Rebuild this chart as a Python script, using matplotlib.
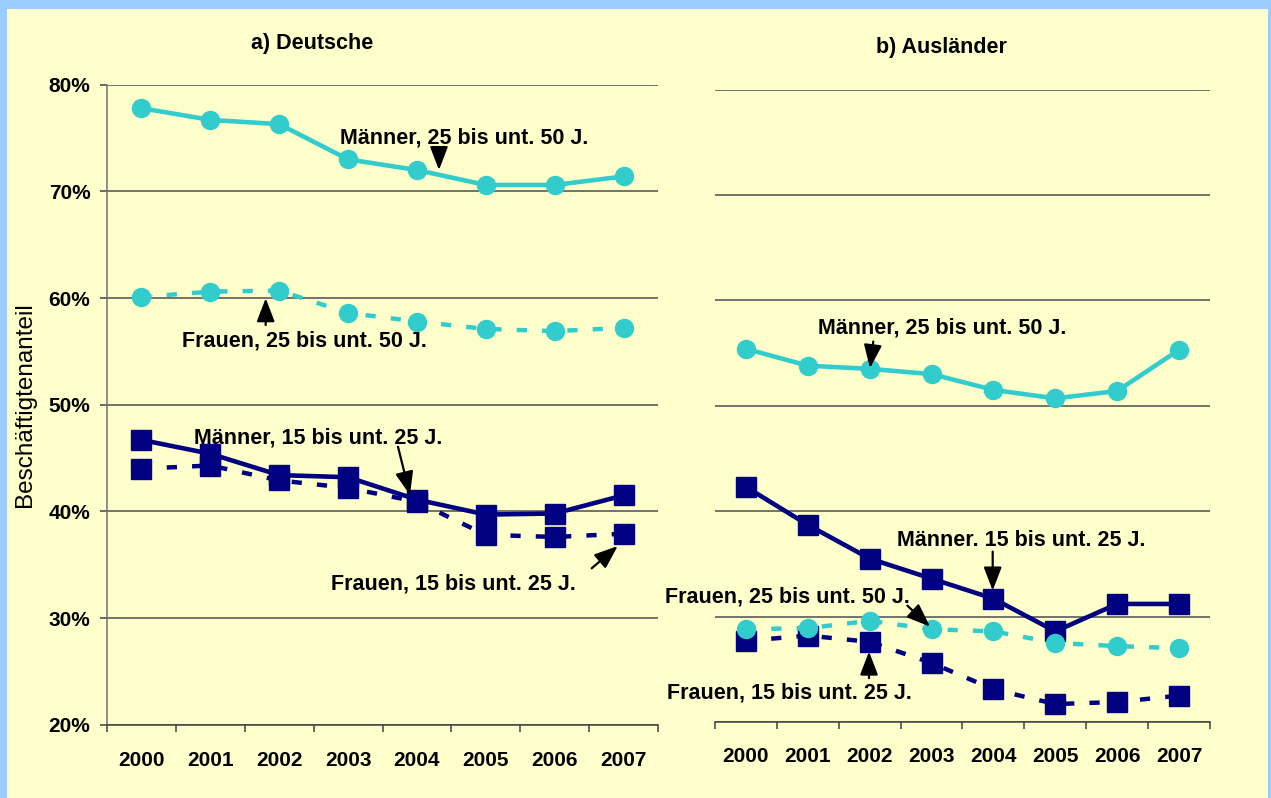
import matplotlib.pyplot as plt
import numpy as np
from matplotlib.patches import Rectangle

plt.rcParams['font.family'] = ['Liberation Sans', 'DejaVu Sans']

years = ['2000', '2001', '2002', '2003', '2004', '2005', '2006', '2007']
yticks = [20, 30, 40, 50, 60, 70, 80]

# a) Deutsche
de_m_25_50 = [77.8, 76.7, 76.3, 73.0, 72.0, 70.6, 70.6, 71.4]
de_f_25_50 = [60.1, 60.6, 60.7, 58.6, 57.8, 57.1, 56.9, 57.2]
de_m_15_25 = [46.7, 45.4, 43.4, 43.2, 41.1, 39.7, 39.8, 41.5]
de_f_15_25 = [44.0, 44.3, 42.9, 42.2, 40.9, 37.8, 37.6, 37.9]

# b) Ausländer
au_m_25_50 = [55.4, 53.8, 53.5, 53.0, 51.5, 50.7, 51.4, 55.3]
au_f_25_50 = [28.8, 28.9, 29.6, 28.8, 28.6, 27.5, 27.2, 27.0]
au_m_15_25 = [42.3, 38.7, 35.5, 33.6, 31.7, 28.6, 31.2, 31.2]
au_f_15_25 = [27.7, 28.2, 27.6, 25.6, 23.1, 21.7, 21.9, 22.5]

cyan = '#33CCCC'
navy = '#000080'
dash = (0, (2.3, 3.4))

fig = plt.figure(figsize=(12.71, 7.98), dpi=100, facecolor='#99CCFF')
fig.patches.append(Rectangle((7 / 1271, 0), 1261 / 1271, 1 - 9 / 798,
                             transform=fig.transFigure, facecolor='#FFFFCC',
                             edgecolor='none', zorder=-10))

ax1 = fig.add_axes([107 / 1271, 1 - 724.7 / 798, 551 / 1271, 640 / 798])
ax2 = fig.add_axes([715 / 1271, 1 - 722 / 798, 495 / 1271, 632.5 / 798])

x = np.arange(len(years))


def draw(ax, m2550, f2550, m1525, f1525):
    ax.plot(x, f1525, color=navy, lw=3.2, ls=dash, marker='s', ms=14)
    ax.plot(x, m1525, color=navy, lw=3.3, marker='s', ms=14)
    ax.plot(x, f2550, color=cyan, lw=3.2, ls=dash, marker='o', ms=13)
    ax.plot(x, m2550, color=cyan, lw=3.3, marker='o', ms=13)

    ax.set_facecolor('none')
    ax.set_xlim(-0.5, 7.5)
    ax.set_ylim(20, 80)
    ax.set_yticks(yticks)
    ax.grid(axis='y', color='#4d4d4d', lw=1.1)
    ax.set_axisbelow(True)
    ax.set_xticks(x)
    ax.set_xticklabels(years, fontsize=15, fontweight='bold')
    ax.set_xticks(np.arange(-0.5, 8, 1), minor=True)
    ax.tick_params(axis='x', which='major', length=0)
    ax.tick_params(axis='x', which='minor', length=5, width=1.1, color='#404040')
    for s in ['top', 'right']:
        ax.spines[s].set_visible(False)
    ax.spines['bottom'].set_color('#404040')
    ax.spines['bottom'].set_linewidth(1.1)


draw(ax1, de_m_25_50, de_f_25_50, de_m_15_25, de_f_15_25)
draw(ax2, au_m_25_50, au_f_25_50, au_m_15_25, au_f_15_25)

ax1.set_yticklabels([f'{v}%' for v in yticks], fontsize=15, fontweight='bold')
ax1.tick_params(axis='y', length=5, width=1.1, color='#404040', pad=7)
ax1.tick_params(axis='x', which='major', pad=19)
ax1.spines['left'].set_color('#707070')
ax1.spines['left'].set_linewidth(1.1)

ax2.spines['left'].set_visible(False)
ax2.tick_params(axis='y', length=0, labelleft=False)
ax2.tick_params(axis='x', which='major', pad=18)

fig.text(312 / 1271, 1 - 49.3 / 798, 'a) Deutsche', fontsize=15.5, fontweight='bold',
         ha='center', va='baseline')
fig.text(941 / 1271, 1 - 53.3 / 798, 'b) Ausländer', fontsize=15.5, fontweight='bold',
         ha='center', va='baseline')
fig.text(25 / 1271, 1 - 405 / 798, 'Beschäftigtenanteil', fontsize=17.5,
         rotation=90, ha='center', va='center')

arrow = dict(arrowstyle='-|>,head_length=0.65,head_width=0.25', color='black',
             lw=1.6, mutation_scale=22, shrinkA=0, shrinkB=0)


def note(ax, text, tx, ty, ax0, ay0, ax1_, ay1_):
    ax.text(tx, ty, text, fontsize=15.5, fontweight='bold', ha='center', va='baseline')
    ax.annotate('', xy=(ax1_, ay1_), xytext=(ax0, ay0), arrowprops=arrow)


note(ax1, 'Männer, 25 bis unt. 50 J.', 4.683, 74.51, 4.320, 73.97, 4.320, 72.0)
note(ax1, 'Frauen, 25 bis unt. 50 J.', 2.360, 55.41, 1.804, 57.47, 1.804, 59.98)
note(ax1, 'Männer, 15 bis unt. 25 J.', 2.563, 46.38, 3.725, 46.06, 3.899, 41.53)
note(ax1, 'Frauen, 15 bis unt. 25 J.', 4.535, 32.63, 6.537, 34.66, 6.915, 36.75)

note(ax2, 'Männer, 25 bis unt. 50 J.', 3.164, 56.89, 2.058, 56.09, 2.005, 53.57)
note(ax2, 'Männer. 15 bis unt. 25 J.', 4.452, 36.71, 3.988, 36.17, 3.988, 32.47)
note(ax2, 'Frauen, 25 bis unt. 50 J.', 0.675, 31.30, 2.608, 31.04, 2.975, 29.05)
note(ax2, 'Frauen, 15 bis unt. 25 J.', 0.696, 22.19, 1.989, 24.16, 1.989, 26.68)

fig.savefig('out.png', dpi=100, facecolor=fig.get_facecolor())
